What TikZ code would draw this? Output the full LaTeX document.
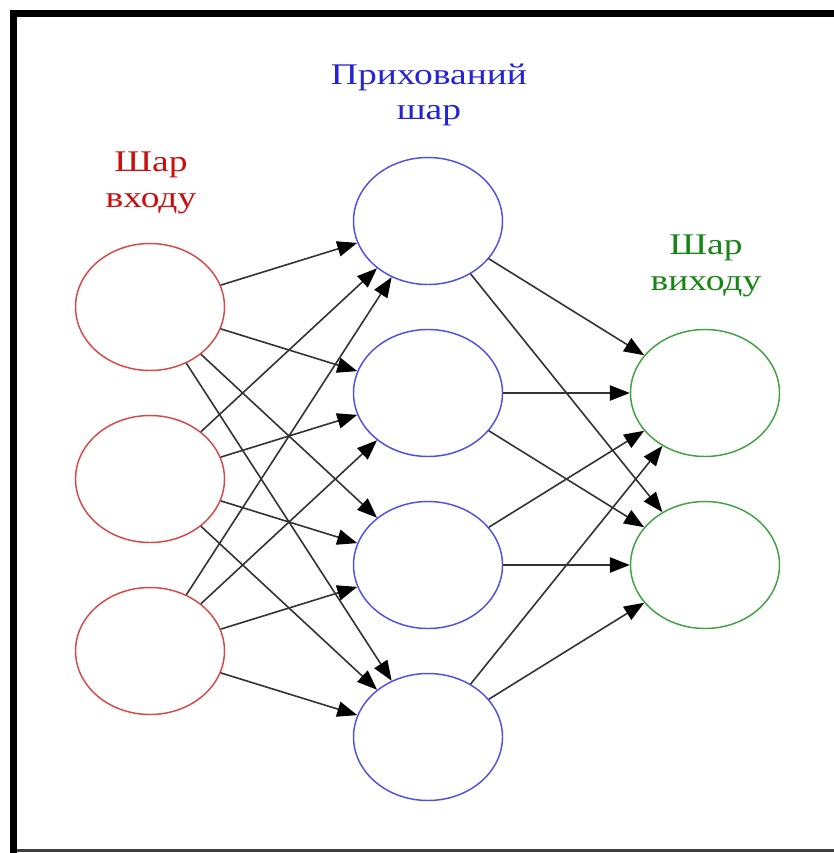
\documentclass[tikz,border=0pt]{standalone}
\usepackage{fontspec}
\newfontfamily\labelfont[FakeStretch=1.25]{Liberation Serif}
\usetikzlibrary{shapes.geometric,arrows.meta}
\definecolor{inred}{RGB}{214,72,72}
\definecolor{inredtxt}{RGB}{200,16,16}
\definecolor{hidblue}{RGB}{80,80,232}
\definecolor{hidbluetxt}{RGB}{36,36,214}
\definecolor{outgreen}{RGB}{64,162,64}
\definecolor{outgreentxt}{RGB}{22,134,22}
\tikzset{
  neuron/.style={ellipse, draw, line width=1.1pt, minimum width=111.75pt,
    minimum height=95.25pt, inner sep=0pt, fill=white},
  innode/.style={neuron, draw=inred},
  hidnode/.style={neuron, draw=hidblue},
  outnode/.style={neuron, draw=outgreen},
  layerlabel/.style={align=center, inner sep=0pt,
    font=\labelfont\fontsize{22.5pt}{26.5pt}\selectfont},
  link/.style={draw=black!80, line width=1.2pt,
    -{Triangle[length=15pt, width=11.5pt, color=black]}}
}
\begin{document}
\begin{tikzpicture}[x=0.75pt, y=-0.75pt]
  \useasboundingbox (0,0) rectangle (834,853);
  % frame
  \fill[white] (0,0) rectangle (834,853);
  \fill[black] (10,9.5) rectangle (834,17.3);
  \fill[black] (10,9.5) rectangle (17.3,853);
  \fill[black!75] (17.3,849) rectangle (834,851.5);

  % layer labels
  \node[layerlabel, text=inredtxt] (lin) at (151,183) {Шар\\входу};
  \node[layerlabel, text=hidbluetxt] (lhid) at (429,95) {Прихований\\шар};
  \node[layerlabel, text=outgreentxt] (lout) at (706,266) {Шар\\виходу};

  % input layer
  \node[innode] (i1) at (150,307) {};
  \node[innode] (i2) at (150,479) {};
  \node[innode] (i3) at (150,651) {};
  % hidden layer
  \node[hidnode] (h1) at (428,221) {};
  \node[hidnode] (h2) at (428,393) {};
  \node[hidnode] (h3) at (428,565) {};
  \node[hidnode] (h4) at (428,737) {};
  % output layer
  \node[outnode] (o1) at (705,393) {};
  \node[outnode] (o2) at (705,565) {};

  % connections
  \foreach \a in {i1,i2,i3}
    \foreach \b in {h1,h2,h3,h4}
      \draw[link] (\a) -- (\b);
  \foreach \a in {h1,h2,h3,h4}
    \foreach \b in {o1,o2}
      \draw[link] (\a) -- (\b);
\end{tikzpicture}
\end{document}
